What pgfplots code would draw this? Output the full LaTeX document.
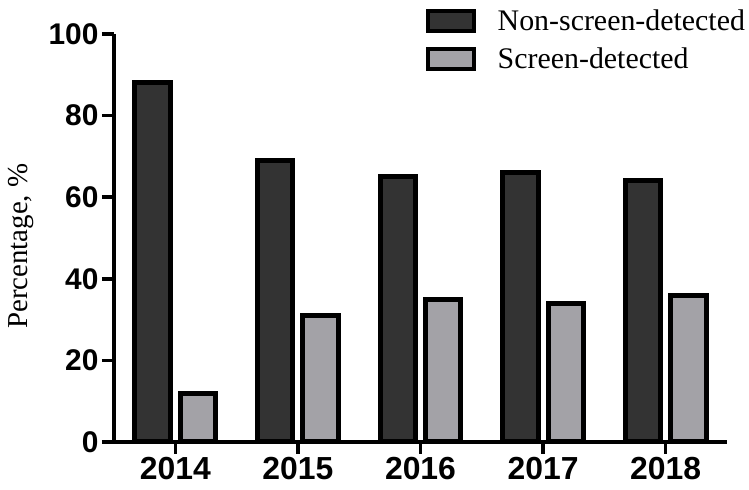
\documentclass[border=0pt]{standalone}
\usepackage{fontspec}
\setmainfont{Liberation Serif}
\setsansfont{Liberation Sans}
\usepackage{pgfplots}
\pgfplotsset{compat=1.18}
\definecolor{darkbar}{HTML}{333333}
\definecolor{lightbar}{HTML}{A3A2A7}
\pgfplotsset{mylegend/.style={legend image code/.code={\draw[##1, line width=4bp] (0bp,-10bp) rectangle (46bp,10bp);}}}
\begin{document}
\begin{tikzpicture}
\useasboundingbox (-114bp,-48bp) rectangle (635bp,442bp);
\begin{axis}[
 at={(0,0)}, anchor=south west,
 scale only axis, width=613bp, height=408bp,
 xmin=-0.5, xmax=4.5, ymin=0, ymax=100,
 axis lines*=left,
 axis line style={line width=3.5bp, black},
 xtick={0,1,2,3,4}, xticklabels={2014,2015,2016,2017,2018},
 ytick={0,20,40,60,80,100},
 tick align=outside, major tick length=12bp,
 tick style={line width=3.5bp, black},
 yticklabel style={font=\sffamily\bfseries\fontsize{30}{32}\selectfont},
 xticklabel style={font=\sffamily\bfseries\fontsize{32}{34}\selectfont},
 /pgf/number format/assume math mode=true,
 ylabel={Percentage, \%},
 ylabel style={font=\fontsize{29}{31}\selectfont, at={(axis description cs:-0.152,0.48)}, anchor=center},
 bar width=0.29,
 legend cell align=left,
 legend style={at={(axis description cs:1.0326,1.064)}, anchor=north east, draw=none, fill=none,
   font=\fontsize{30}{32}\selectfont, row sep=12bp, inner sep=0pt, outer sep=0pt,
   /tikz/every odd column/.append style={column sep=20bp}},
]
\addplot[ybar, bar shift=-0.185, fill=darkbar, draw=black, line width=5bp, mylegend] coordinates {(0,88) (1,69) (2,65) (3,66) (4,64)};
\addlegendentry{Non-screen-detected}
\addplot[ybar, bar shift=0.185, fill=lightbar, draw=black, line width=5bp, mylegend] coordinates {(0,12) (1,31) (2,35) (3,34) (4,36)};
\addlegendentry{Screen-detected}
\end{axis}
\end{tikzpicture}
\end{document}
